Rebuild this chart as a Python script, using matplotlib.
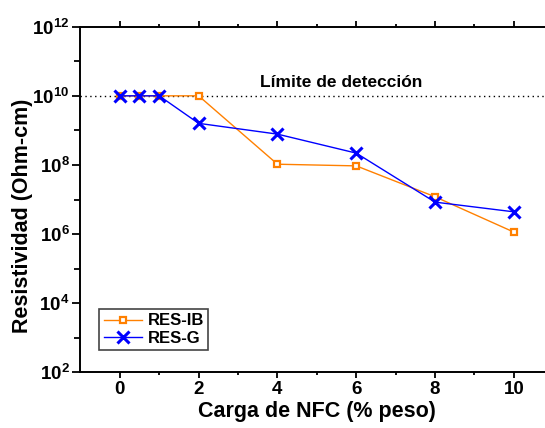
import matplotlib
matplotlib.use("Agg")
import matplotlib.pyplot as plt
import matplotlib.ticker as mticker

plt.rcParams["font.family"] = ["Liberation Sans", "DejaVu Sans"]
plt.rcParams["font.weight"] = "bold"
plt.rcParams["mathtext.fontset"] = "custom"
plt.rcParams["mathtext.rm"] = "Liberation Sans:bold"
plt.rcParams["mathtext.it"] = "Liberation Sans:bold"
plt.rcParams["mathtext.bf"] = "Liberation Sans:bold"

carga = [0, 0.5, 1, 2, 4, 6, 8, 10]
res_ib = [1e10, 1e10, 1e10, 1e10, 1.05e8, 9.4e7, 1.2e7, 1.14e6]
res_g = [1e10, 1e10, 1e10, 1.6e9, 7.8e8, 2.2e8, 8.4e6, 4.4e6]
limite = 1e10

fig = plt.figure(figsize=(5.45, 4.28), dpi=100)
# axes run past the right edge of the picture (cropped like the original)
ax = fig.add_axes([0.1475, 0.1301, 1.0875 - 0.1475, 0.9376 - 0.1301])

ax.axhline(limite, color="black", linestyle=(0, (1, 2.5)), linewidth=1)
ax.plot(carga, res_ib, color="#ff8000", marker="s", markersize=4.5, markerfacecolor="white",
        markeredgewidth=1.6, linewidth=1, label="RES-IB")
ax.plot(carga, res_g, color="#0000ff", marker="x", markersize=8, markeredgewidth=2.2,
        linewidth=1, label="RES-G")
ax.text(5.62, 10**10.26, "Límite de detección", ha="center", va="baseline", fontsize=12.5,
        fontweight="bold")

ax.set_yscale("log")
ax.set_xlim(-1, 12)
ax.set_ylim(1e2, 1e12)
ax.xaxis.set_major_locator(mticker.FixedLocator([0, 2, 4, 6, 8, 10]))
ax.xaxis.set_minor_locator(mticker.FixedLocator([1, 3, 5, 7, 9, 11]))
ax.yaxis.set_major_locator(mticker.FixedLocator([1e2, 1e4, 1e6, 1e8, 1e10, 1e12]))
ax.yaxis.set_minor_locator(mticker.FixedLocator([1e3, 1e5, 1e7, 1e9, 1e11]))
ax.yaxis.set_major_formatter(mticker.LogFormatterSciNotation())
ax.yaxis.set_minor_formatter(mticker.NullFormatter())

for s in ["top", "right", "left", "bottom"]:
    ax.spines[s].set_linewidth(1.4)
ax.tick_params(which="both", direction="out", width=1.3, labelsize=13.5, top=True)
ax.tick_params(axis="x", which="major", length=4, pad=2.6)
ax.tick_params(axis="x", which="minor", length=2)
ax.tick_params(axis="y", which="major", length=6, pad=1.8)
ax.tick_params(axis="y", which="minor", length=4)

ax.set_xlabel("Carga de NFC (% peso)", fontsize=15.5, fontweight="bold")
ax.set_ylabel("Resistividad (Ohm-cm)", fontsize=15.5, fontweight="bold")
ax.xaxis.set_label_coords(0.462, -0.0816)
ax.yaxis.set_label_coords(-0.093, 0.452)

leg = ax.legend(loc="lower left", bbox_to_anchor=(0.037, 0.0645), fontsize=12, handlelength=2.3,
                handletextpad=0.35, borderpad=0.25, borderaxespad=0, labelspacing=0.15,
                fancybox=False, framealpha=1)
leg.get_frame().set_edgecolor("#444444")
leg.get_frame().set_linewidth(1.2)

fig.savefig("out.png", dpi=100)
